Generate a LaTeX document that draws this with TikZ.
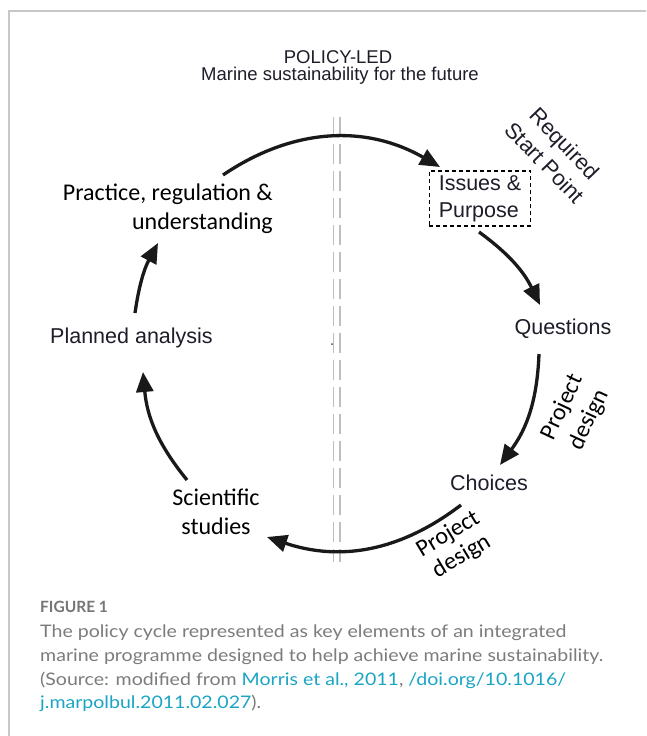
\documentclass[tikz,border=0pt]{standalone}
\usepackage{fontspec}
\setmainfont{Liberation Sans}
\newfontfamily\calibri{Carlito}
\newfontfamily\capfont{Lato}
\newfontfamily\capwide[FakeStretch=1.13]{Lato}
\usetikzlibrary{arrows.meta}
\definecolor{labelink}{HTML}{1E1E2A}
\definecolor{framegray}{HTML}{C8C8C8}
\definecolor{divider}{HTML}{BEBEBE}
\definecolor{captext}{HTML}{7C7C7C}
\definecolor{caplink}{HTML}{1AA5C4}
\tikzset{
  x=1pt, y=1pt,
  arialtext/.style={font=\fontsize{21.5}{27}\selectfont, text=labelink, inner sep=0pt},
  caltext/.style={font=\calibri\fontsize{24}{29}\selectfont, text=black, inner sep=0pt},
  cyclearrow/.style={line width=3.3pt, draw=black!90, -{Triangle[length=20pt,width=17pt]}},
  divline/.style={draw=divider, line width=1.6pt, dash pattern=on 20pt off 7pt},
  captionline/.style={font=\capwide\fontsize{17.3}{23.5}\selectfont, text=captext, anchor=west, inner sep=0pt},
}
\begin{document}
\begin{tikzpicture}
  % page frame
  \useasboundingbox (0,0) rectangle (646,-736);
  \fill[white] (0,0) rectangle (646,-736);
  \draw[framegray, line width=1.3pt] (646,-11) -- (9,-11) -- (9,-736);

  % central divider
  \draw[divline] (333.5,-117) -- (333.5,-562);
  \draw[divline] (340,-117) -- (340,-562);
  \fill[black!70] (332,-344) circle (1pt);

  % heading
  \node[font=\fontsize{18.5}{22}\selectfont, text=labelink] (title) at (338,-57) {POLICY-LED};
  \node[font=\fontsize{18.5}{22}\selectfont, text=labelink] (subtitle) at (340,-76) {Marine sustainability for the future};

  % stages of the cycle
  \node[arialtext, draw=black, line width=1.5pt, dash pattern=on 4pt off 3pt,
        minimum width=100pt, minimum height=55pt, align=left, inner xsep=9.5pt, anchor=center]
        (issues) at (480,-198.5) {Issues \&\\Purpose};
  \node[arialtext] (questions) at (563,-329) {Questions};
  \node[arialtext] (choices) at (489,-483) {Choices};
  \node[arialtext] (planned) at (131.5,-338) {Planned analysis};
  \node[caltext, align=right, anchor=east] (practice) at (273,-208.5) {Practice, regulation \&\\understanding};
  \node[caltext, align=center] (scientific) at (216,-511.5) {Scientific\\studies};

  % side labels
  \node[font=\fontsize{22}{27.5}\selectfont, text=labelink, inner sep=0pt, align=center, rotate=-46]
        (startpoint) at (555,-153) {Required\\Start Point};
  \node[caltext, align=center, rotate=65, font=\calibri\fontsize{24}{29.5}\selectfont] (design1) at (576,-413.5) {Project\\design};
  \node[caltext, align=center, rotate=31, font=\calibri\fontsize{24}{26}\selectfont] (design2) at (455,-545.5) {Project\\design};

  % arrow end points
  \coordinate (practice-out) at (223,-175);
  \coordinate (issues-in) at (440,-167);
  \coordinate (issues-out) at (479,-232);
  \coordinate (questions-in) at (540,-305);
  \coordinate (questions-out) at (539,-354);
  \coordinate (choices-in) at (500,-465);
  \coordinate (choices-out) at (461,-505);
  \coordinate (scientific-in) at (267,-537);
  \coordinate (scientific-out) at (187,-480);
  \coordinate (planned-in) at (143,-372);
  \coordinate (planned-out) at (135,-313);
  \coordinate (practice-in) at (158,-243);

  % the cycle
  \draw[cyclearrow] (practice-out) to[bend left=32] (issues-in);
  \draw[cyclearrow] (issues-out) to[bend left=14] (questions-in);
  \draw[cyclearrow] (questions-out) to[bend left=17] (choices-in);
  \draw[cyclearrow] (choices-out) to[bend left=28] (scientific-in);
  \draw[cyclearrow] (scientific-out) to[bend left=17] (planned-in);
  \draw[cyclearrow] (planned-out) to[bend left=10] (practice-in);

  % caption
  \node[font=\capfont\bfseries\fontsize{15.5}{20}\selectfont, text=captext!95!black, anchor=west, inner sep=0pt]
        (figlabel) at (40,-607) {FIGURE 1};
  \node[captionline] (cap1) at (40,-633) {The policy cycle represented as key elements of an integrated};
  \node[captionline] (cap2) at (40,-656.5) {marine programme designed to help achieve marine sustainability.};
  \node[captionline] (cap3) at (40,-680) {(Source: modified from \textcolor{caplink}{Morris et al., 2011}, \textcolor{caplink}{/doi.org/10.1016/}};
  \node[captionline] (cap4) at (40,-703.5) {\textcolor{caplink}{j.marpolbul.2011.02.027}).};
\end{tikzpicture}
\end{document}
